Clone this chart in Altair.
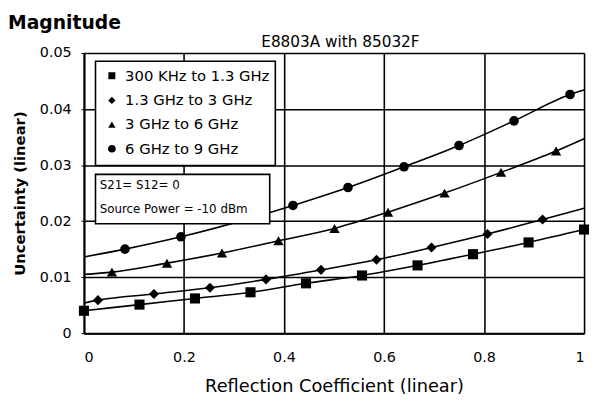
import altair as alt
import pandas as pd

# ---- data ----
series_names = ["300 KHz to 1.3 GHz", "1.3 GHz to 3 GHz", "3 GHz to 6 GHz", "6 GHz to 9 GHz"]
shapes = ["square", "diamond", "triangle-up", "circle"]
sizes = [105, 105, 110, 95]

sq_x = [0.0, 0.111, 0.222, 0.333, 0.444, 0.556, 0.667, 0.778, 0.889, 1.0]
sq_y = [0.0040, 0.0051, 0.0062, 0.0073, 0.0089, 0.0103, 0.0121, 0.0141, 0.0162, 0.0185]

di_x = [0.028, 0.140, 0.252, 0.364, 0.474, 0.585, 0.695, 0.807, 0.917]
di_y = [0.0059, 0.0070, 0.0081, 0.0096, 0.0113, 0.0131, 0.0153, 0.0177, 0.0203]

tr_x = [0.056, 0.166, 0.276, 0.389, 0.501, 0.608, 0.721, 0.834, 0.944]
tr_y = [0.0109, 0.0125, 0.0143, 0.0165, 0.0187, 0.0216, 0.0250, 0.0287, 0.0325]

ci_x = [0.082, 0.194, 0.418, 0.528, 0.640, 0.750, 0.860, 0.972]
ci_y = [0.0150, 0.0172, 0.0228, 0.0260, 0.0297, 0.0335, 0.0379, 0.0426]

# curve ends at reflection coefficient 0 and 1
line_start = [0.0040, 0.0054, 0.0105, 0.0136]
line_end = [0.0185, 0.0223, 0.0347, 0.0434]

x_ticks = [0, 0.2, 0.4, 0.6, 0.8, 1]
y_ticks = [0, 0.01, 0.02, 0.03, 0.04, 0.05]

FONT = "DejaVu Sans"

all_x = [sq_x, di_x, tr_x, ci_x]
all_y = [sq_y, di_y, tr_y, ci_y]

pts_rows, line_rows = [], []
for i, name in enumerate(series_names):
    for xv, yv in zip(all_x[i], all_y[i]):
        pts_rows.append({"series": name, "x": xv, "y": yv})
    lx = [0.0] + all_x[i] + [1.0]
    ly = [line_start[i]] + all_y[i] + [line_end[i]]
    seen = set()
    for xv, yv in zip(lx, ly):
        if xv in seen:
            continue
        seen.add(xv)
        line_rows.append({"series": name, "x": xv, "y": yv})

pts = pd.DataFrame(pts_rows)
lines = pd.DataFrame(line_rows)

xscale = alt.Scale(domain=[0, 1], nice=False, zero=False)
yscale = alt.Scale(domain=[0, 0.05], nice=False)

xenc = alt.X(
    "x:Q", scale=xscale,
    axis=alt.Axis(values=x_ticks, format="~g", title="Reflection Coefficient (linear)",
                  grid=True, gridColor="black", gridWidth=1.6, gridOpacity=1,
                  domainColor="black", domainWidth=2, tickSize=0, labelPadding=18,
                  labelFont=FONT, labelFontSize=14.5, labelColor="black",
                  titleFont=FONT, titleFontSize=18, titleFontWeight="normal",
                  titleColor="black", titlePadding=14),
)
yenc = alt.Y(
    "y:Q", scale=yscale,
    axis=alt.Axis(values=y_ticks, format="~g", title="Uncertainty (linear)",
                  grid=True, gridColor="black", gridWidth=1.6, gridOpacity=1,
                  domainColor="black", domainWidth=2, tickSize=3, tickColor="black",
                  labelPadding=10, labelFont=FONT, labelFontSize=14.5, labelColor="black",
                  titleFont=FONT, titleFontSize=15, titleFontWeight="bold",
                  titleColor="black", titlePadding=12),
)

line_layer = alt.Chart(lines).mark_line(color="black", strokeWidth=1.6, interpolate="monotone").encode(
    x=xenc, y=yenc, detail="series:N"
)

point_layers = []
for i, name in enumerate(series_names):
    point_layers.append(
        alt.Chart(pts[pts.series == name]).mark_point(
            shape=shapes[i], filled=True, color="black", opacity=1, size=sizes[i]
        ).encode(x=alt.X("x:Q", scale=xscale), y=alt.Y("y:Q", scale=yscale))
    )

one = pd.DataFrame({"a": [0]})

# legend box
legend_box = alt.Chart(one).mark_rect(fill="white", stroke="black", strokeWidth=1.6).encode(
    x=alt.value(11.7), x2=alt.value(194), y=alt.value(8.3), y2=alt.value(114)
)
legend_rows = [23, 48, 72.5, 97]
legend_sizes = [50, 55, 55, 60]
legend_layers = []
for i, name in enumerate(series_names):
    legend_layers.append(
        alt.Chart(one).mark_point(shape=shapes[i], filled=True, color="black", opacity=1,
                                  size=legend_sizes[i]).encode(
            x=alt.value(28.3), y=alt.value(legend_rows[i]))
    )
    legend_layers.append(
        alt.Chart(one).mark_text(text=name, align="left", baseline="middle", font=FONT,
                                 fontSize=15, color="black").encode(
            x=alt.value(41.7), y=alt.value(legend_rows[i]))
    )

# text box
text_box = alt.Chart(one).mark_rect(fill="white", stroke="black", strokeWidth=1.6).encode(
    x=alt.value(11.7), x2=alt.value(188.3), y=alt.value(123), y2=alt.value(173)
)
note_lines = ["S21= S12= 0", "Source Power = -10 dBm"]
note_rows = [134, 158.3]
note_layers = [
    alt.Chart(one).mark_text(text=t, align="left", baseline="middle", font=FONT,
                             fontSize=12, color="black").encode(x=alt.value(16), y=alt.value(r))
    for t, r in zip(note_lines, note_rows)
]

title_main = alt.Chart(one).mark_text(text="Magnitude", align="left", baseline="alphabetic",
                                      font=FONT, fontSize=19, fontWeight="bold",
                                      color="black").encode(x=alt.value(-77), y=alt.value(-24))
title_sub = alt.Chart(one).mark_text(text="E8803A with 85032F", align="center",
                                     baseline="alphabetic", font=FONT, fontSize=15.5,
                                     color="black").encode(x=alt.value(260), y=alt.value(-6))

chart = alt.layer(
    line_layer, *point_layers, legend_box, *legend_layers, text_box, *note_layers,
    title_main, title_sub
).properties(
    width=507, height=284,
    autosize=alt.AutoSizeParams(type="none"),
    padding={"left": 77, "top": 43, "right": 5, "bottom": 60},
).configure_view(stroke="black", strokeWidth=2).configure(background="white")

chart.save("out.html", embed_options={"renderer": "svg", "actions": False})
